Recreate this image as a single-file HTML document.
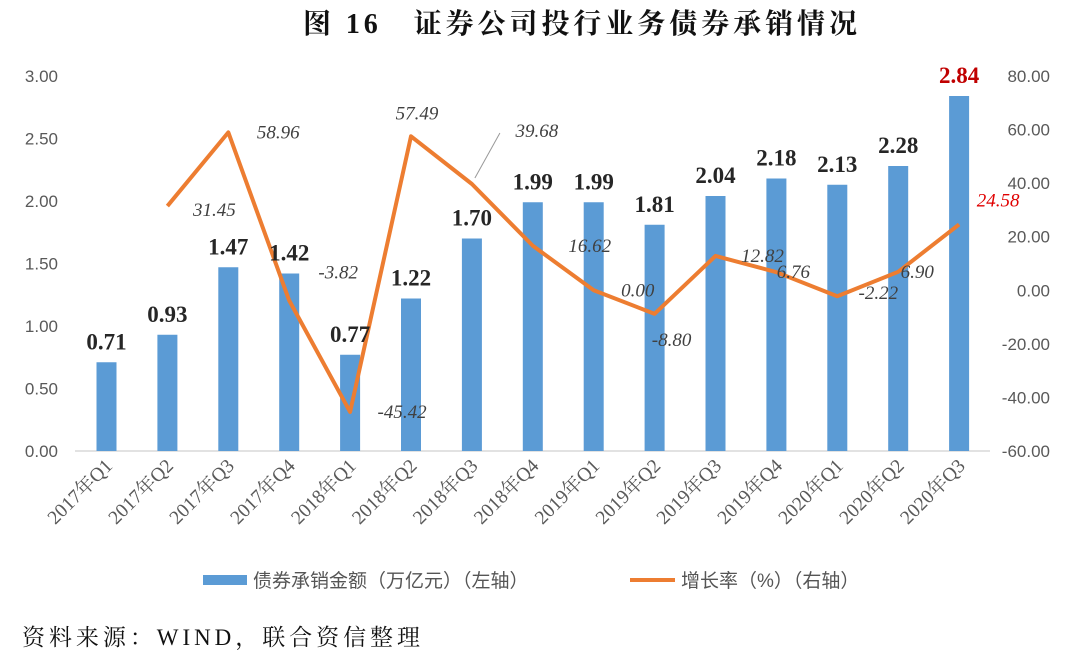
<!DOCTYPE html>
<html><head><meta charset="utf-8"><style>
body{margin:0;background:#fff;}
svg text{font-family:"Liberation Serif","Noto Serif CJK SC",serif;}
</style></head><body>
<svg width="1080" height="655" xmlns="http://www.w3.org/2000/svg">
<text x="303" y="33" textLength="554" lengthAdjust="spacing" font-size="28" font-weight="bold" fill="#111">图 16　证券公司投行业务债券承销情况</text>
<g id="axes"></g><g id="bars"></g><g id="line"></g><g id="labels"></g>
<g>
<rect x="203" y="575" width="44" height="10" fill="#5B9BD5"/>
<text x="253" y="587" font-size="19" fill="#555" style="font-family:'Liberation Sans','Noto Sans CJK SC',sans-serif">债券承销金额（万亿元）（左轴）</text>
<line x1="630" y1="580" x2="675" y2="580" stroke="#ED7D31" stroke-width="4"/>
<text x="681" y="587" font-size="19" fill="#555" style="font-family:'Liberation Sans','Noto Sans CJK SC',sans-serif">增长率（%）（右轴）</text>
</g>
<text x="22" y="645" textLength="398" lengthAdjust="spacing" font-size="23" fill="#111">资料来源：WIND，联合资信整理</text>
</svg>
<script>
const categories=["2017年Q1","2017年Q2","2017年Q3","2017年Q4","2018年Q1","2018年Q2","2018年Q3","2018年Q4","2019年Q1","2019年Q2","2019年Q3","2019年Q4","2020年Q1","2020年Q2","2020年Q3"];
const amounts=[0.71,0.93,1.47,1.42,0.77,1.22,1.70,1.99,1.99,1.81,2.04,2.18,2.13,2.28,2.84];
const growth=[null,31.45,58.96,-3.82,-45.42,57.49,39.68,16.62,0.00,-8.80,12.82,6.76,-2.22,6.90,24.58];
const leftTicks=[0,0.5,1,1.5,2,2.5,3];
const rightTicks=[-60,-40,-20,0,20,40,60,80];
const labelOffsets=[null,[47,4],[50,0],[49,-28],[52,0],[6,-23],[65,-53],[57,0],[44,0],[17,26],[47,0],[17,0],[41,-3],[19,0],[39,-24]];
const NS="http://www.w3.org/2000/svg";
const yL=v=>451-v/3*375, yR=v=>451-(v+60)/140*375, xC=i=>106.5+i*60.9;
function mk(p,t,a,txt){const e=document.createElementNS(NS,t);for(const k in a)e.setAttribute(k,a[k]);if(txt!=null)e.textContent=txt;document.getElementById(p).appendChild(e);return e;}
let e=mk("axes","line",{x1:75,x2:990,y1:451,y2:451,stroke:"#d9d9d9","stroke-width":1.5});


leftTicks.forEach(v=>{const t=mk("axes","text",{x:58,y:yL(v)+6,"text-anchor":"end","font-size":17,fill:"#595959",style:"font-family:'Liberation Sans',sans-serif"},v.toFixed(2));

});
rightTicks.forEach(v=>{const t=mk("axes","text",{x:1050,y:yR(v)+6,"text-anchor":"end","font-size":17,fill:"#595959",style:"font-family:'Liberation Sans',sans-serif"},v.toFixed(2));

});
categories.forEach((c,i)=>{const x=xC(i);const t=mk("axes","text",{x:x+7,y:467,"text-anchor":"end","font-size":19.5,fill:"#595959",transform:`rotate(-45 ${x+7} 467)`},c);

});
amounts.forEach((v,i)=>{const x=xC(i);const r=mk("bars","rect",{x:x-10,y:yL(v),width:20,height:451-yL(v),fill:"#5B9BD5"});


const last=i===amounts.length-1;
const t=mk("labels","text",{x:x,y:yL(v)-13,"text-anchor":"middle","font-size":23,"font-weight":"bold",fill:last?"#C00000":"#262626"},v.toFixed(2));

});
let pts=[];growth.forEach((v,i)=>{if(v!=null)pts.push([xC(i),yR(v),v,i]);});
const pl=mk("line","polyline",{points:pts.map(p=>p[0]+","+p[1]).join(" "),fill:"none",stroke:"#ED7D31","stroke-width":4,"stroke-linejoin":"round"});


pts.forEach(p=>{const o=labelOffsets[p[3]];const last=p[3]===growth.length-1;
if(p[3]===6){const l=mk("labels","line",{x1:p[0]+3,y1:p[1]-6,x2:p[0]+28,y2:p[1]-51,stroke:"#999","stroke-width":1});

}
const t=mk("labels","text",{x:p[0]+o[0],y:p[1]+o[1]+6,"text-anchor":"middle","font-size":19,"font-style":"italic",fill:last?"#E00000":"#404040"},p[2].toFixed(2));

});
</script>
</body></html>
